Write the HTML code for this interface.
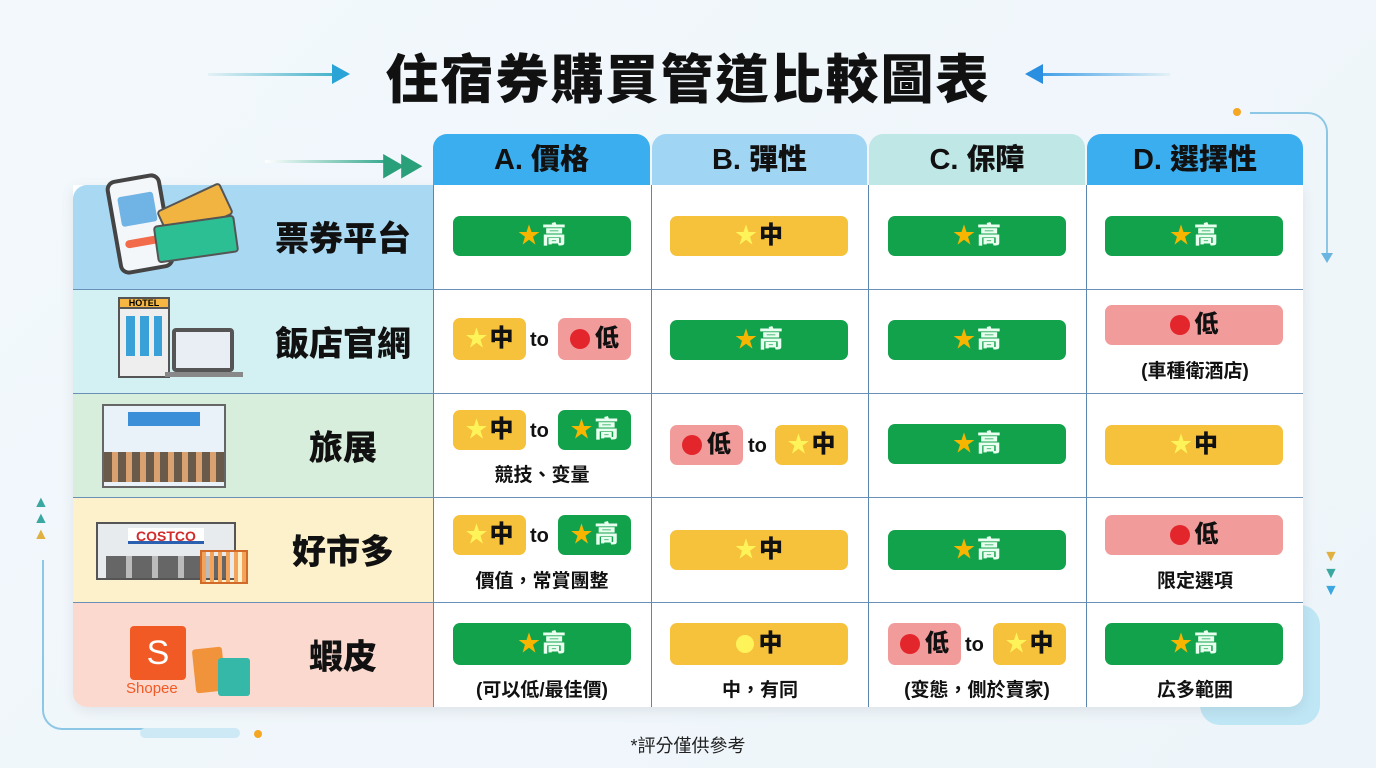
<!DOCTYPE html>
<html><head><meta charset="utf-8"><style>
*{margin:0;padding:0;box-sizing:border-box}
body{width:1376px;height:768px;overflow:hidden;background:linear-gradient(135deg,#f2f8fc,#eef5fa);font-family:"Liberation Sans","Noto Sans CJK TC",sans-serif;position:relative}
.a{position:absolute}
.title{left:0;width:1376px;top:38px;text-align:center;font-size:53px;font-weight:900;color:#111;letter-spacing:2px}
.hd{top:134px;height:51px;border-radius:14px 14px 0 0;text-align:center;font-size:29px;font-weight:900;line-height:52px;color:#111}
.lab{left:73px;width:360px;font-size:34px;font-weight:900;color:#111}
.lab span{position:absolute;left:180px;top:50%;transform:translateY(-52%);width:180px;text-align:center}
.p{position:absolute;height:36px;border-radius:7px;font-size:24px;font-weight:900;display:flex;align-items:center;justify-content:center;gap:2px;line-height:1}
.g{background:#12a24c;color:#e9fff0}.y{background:#f6c13b;color:#111}.r{background:#f29b9b;color:#111}
.st{color:#f7b500;font-size:22px}.y .st{color:#fff35a}
.dot{width:20px;height:20px;border-radius:50%;background:#e3262c;display:inline-block;margin-right:3px}
.to{position:absolute;font-size:20px;font-weight:900;color:#111}
.sub{position:absolute;font-size:19px;font-weight:700;color:#111;text-align:center;width:218px}
</style></head><body>
<div class="a title">住宿券購買管道比較圖表</div>
<div class="a" style="left:208px;top:73px;width:130px;height:3px;background:linear-gradient(90deg,#e4f2f6,#3fb0c8)"></div>
<div class="a" style="left:332px;top:64px;width:0;height:0;border-left:18px solid #2aa3d6;border-top:10px solid transparent;border-bottom:10px solid transparent"></div>
<div class="a" style="left:1040px;top:73px;width:130px;height:3px;background:linear-gradient(90deg,#3f9ee8,#e4f2f6)"></div>
<div class="a" style="left:1025px;top:64px;width:0;height:0;border-right:18px solid #2a8fe0;border-top:10px solid transparent;border-bottom:10px solid transparent"></div>
<div class="a" style="left:265px;top:160px;width:120px;height:3px;background:linear-gradient(90deg,#fff,#3aaa90)"></div>
<div class="a" style="left:380px;top:147px;font-size:26px;color:#2aa07a;font-weight:900;letter-spacing:-8px">▶▶</div>
<div class="a" style="left:1233px;top:108px;width:8px;height:8px;border-radius:50%;background:#f5a623"></div>
<div class="a" style="left:1250px;top:112px;width:78px;height:145px;border-top:2px solid #8cc8e6;border-right:2px solid #8cc8e6;border-radius:0 20px 0 0"></div>
<div class="a" style="left:1321px;top:253px;border-top:10px solid #6bb6e0;border-left:6px solid transparent;border-right:6px solid transparent"></div>
<div class="a" style="left:42px;top:560px;width:120px;height:170px;border-left:2px solid #8cc8e6;border-bottom:2px solid #8cc8e6;border-radius:0 0 0 20px"></div>
<div class="a" style="left:140px;top:728px;width:100px;height:10px;border-radius:5px;background:#cde9f5"></div>
<div class="a" style="left:254px;top:730px;width:8px;height:8px;border-radius:50%;background:#f5a623"></div>
<div class="a" style="left:33px;top:495px;font-size:16px;line-height:16px;color:#3aa7a0">▲<br>▲<br><span style="color:#e0b040">▲</span></div>
<div class="a" style="left:1323px;top:548px;font-size:16px;line-height:17px;color:#e0b040">▼<br><span style="color:#3aa7a0">▼</span><br><span style="color:#3aa7e0">▼</span></div>
<div class="a" style="left:1200px;top:605px;width:120px;height:120px;border-radius:20px;background:#bfe6f5"></div>
<div class="a" style="left:73px;top:185px;width:1230px;height:522px;background:#fff;border-radius:0 0 14px 14px;box-shadow:0 4px 14px rgba(0,0,0,.08);overflow:hidden"></div>
<div class="a hd" style="left:433px;width:217px;background:#3aaeee">A. 價格</div>
<div class="a hd" style="left:652px;width:215px;background:#a0d5f3">B. 彈性</div>
<div class="a hd" style="left:869px;width:216px;background:#bfe7e6">C. 保障</div>
<div class="a hd" style="left:1087px;width:216px;background:#3aaeee">D. 選擇性</div>
<div class="a lab" style="top:185px;height:104px;background:#a9d8f3;border-radius:14px 0 0 0"><span>票券平台</span></div>
<div class="a lab" style="top:290px;height:103px;background:#d3f0f2"><span>飯店官網</span></div>
<div class="a lab" style="top:394px;height:103px;background:#d8eedc"><span>旅展</span></div>
<div class="a lab" style="top:498px;height:104px;background:#fdf1cb"><span>好市多</span></div>
<div class="a lab" style="top:603px;height:104px;background:#fbd9cf;border-radius:0 0 0 14px"><span>蝦皮</span></div>
<div class="a" style="left:433px;top:185px;width:1px;height:522px;background:#5b86b0"></div>
<div class="a" style="left:651px;top:185px;width:1px;height:522px;background:#5b86b0"></div>
<div class="a" style="left:868px;top:185px;width:1px;height:522px;background:#5b86b0"></div>
<div class="a" style="left:1086px;top:185px;width:1px;height:522px;background:#5b86b0"></div>
<div class="a" style="left:73px;top:289px;width:1230px;height:1px;background:#6a90b8"></div>
<div class="a" style="left:73px;top:393px;width:1230px;height:1px;background:#6a90b8"></div>
<div class="a" style="left:73px;top:497px;width:1230px;height:1px;background:#6a90b8"></div>
<div class="a" style="left:73px;top:602px;width:1230px;height:1px;background:#6a90b8"></div>
<div class="a" style="left:112px;top:176px;width:56px;height:96px;border:4px solid #444;border-radius:10px;background:#f4f7fa;transform:rotate(-10deg)"><div style="margin:14px 6px;height:30px;background:#6fb4e4;border-radius:3px"></div><div style="margin:8px 6px;height:8px;background:#f26b4a;border-radius:4px"></div></div>
<div class="a" style="left:160px;top:195px;width:70px;height:35px;background:#f2b441;border:2px solid #555;border-radius:4px;transform:rotate(-25deg)"></div>
<div class="a" style="left:155px;top:220px;width:82px;height:38px;background:#2dbf94;border:2px solid #555;border-radius:4px;transform:rotate(-8deg)"></div>
<div class="a" style="left:118px;top:300px;width:52px;height:78px;background:#eee;border:2px solid #555"><div style="margin:14px 6px 0;height:40px;background:repeating-linear-gradient(90deg,#3aa0d8 0 9px,transparent 9px 14px)"></div></div>
<div class="a" style="left:118px;top:297px;width:52px;height:12px;background:#f5b642;border:2px solid #555;font-size:9px;font-weight:900;text-align:center;line-height:8px">HOTEL</div>
<div class="a" style="left:172px;top:328px;width:62px;height:44px;background:#e8eef3;border:4px solid #555;border-radius:4px"></div>
<div class="a" style="left:165px;top:372px;width:78px;height:5px;background:#888"></div>
<div class="a" style="left:102px;top:404px;width:124px;height:84px;border:2px solid #666;background:#e9f2f8"><div style="margin:6px 24px;height:14px;background:#3a8fd8"></div><div style="margin-top:26px;height:30px;background:repeating-linear-gradient(90deg,#6a5a4a 0 8px,#d9a070 8px 14px)"></div></div>
<div class="a" style="left:96px;top:522px;width:140px;height:58px;background:#e8ebee;border:2px solid #555"><div style="margin:4px 30px;height:16px;background:#fff;color:#d12b2b;font-weight:900;font-size:14px;text-align:center;line-height:16px;border-bottom:3px solid #2b5fb0">COSTCO</div><div style="margin:12px 8px;height:22px;background:repeating-linear-gradient(90deg,#666 0 20px,#bbb 20px 26px)"></div></div>
<div class="a" style="left:200px;top:550px;width:48px;height:34px;border:2px solid #d26a2a;background:repeating-linear-gradient(90deg,#f3a45a 0 4px,transparent 4px 8px)"></div>
<div class="a" style="left:130px;top:626px;width:56px;height:54px;background:#f15a24;border-radius:4px;color:#fff;font-size:34px;text-align:center;line-height:54px">S</div>
<div class="a" style="left:126px;top:680px;font-size:15px;color:#f15a24">Shopee</div>
<div class="a" style="left:194px;top:648px;width:30px;height:44px;background:#f0933a;border-radius:3px;transform:rotate(-6deg)"></div>
<div class="a" style="left:218px;top:658px;width:32px;height:38px;background:#36b8a8;border-radius:3px"></div>
<div class="p g" style="left:453px;top:216px;width:178px;height:40px"><span class="st">★</span>高</div>
<div class="p y" style="left:670px;top:216px;width:178px;height:40px"><span class="st">★</span>中</div>
<div class="p g" style="left:888px;top:216px;width:178px;height:40px"><span class="st">★</span>高</div>
<div class="p g" style="left:1105px;top:216px;width:178px;height:40px"><span class="st">★</span>高</div>
<div class="p y" style="left:453px;top:318px;width:73px;height:42px"><span class="st">★</span>中</div>
<div class="to" style="left:530px;top:329px">to</div>
<div class="p r" style="left:558px;top:318px;width:73px;height:42px"><span class="dot"></span>低</div>
<div class="p g" style="left:670px;top:320px;width:178px;height:40px"><span class="st">★</span>高</div>
<div class="p g" style="left:888px;top:320px;width:178px;height:40px"><span class="st">★</span>高</div>
<div class="p r" style="left:1105px;top:305px;width:178px;height:40px"><span class="dot"></span>低</div>
<div class="sub" style="left:1086px;top:356px">(車種衛酒店)</div>
<div class="p y" style="left:453px;top:410px;width:73px;height:40px"><span class="st">★</span>中</div>
<div class="to" style="left:530px;top:420px">to</div>
<div class="p g" style="left:558px;top:410px;width:73px;height:40px"><span class="st">★</span>高</div>
<div class="sub" style="left:433px;top:460px">競技、变量</div>
<div class="p r" style="left:670px;top:425px;width:73px;height:40px"><span class="dot"></span>低</div>
<div class="to" style="left:748px;top:435px">to</div>
<div class="p y" style="left:775px;top:425px;width:73px;height:40px"><span class="st">★</span>中</div>
<div class="p g" style="left:888px;top:424px;width:178px;height:40px"><span class="st">★</span>高</div>
<div class="p y" style="left:1105px;top:425px;width:178px;height:40px"><span class="st">★</span>中</div>
<div class="p y" style="left:453px;top:515px;width:73px;height:40px"><span class="st">★</span>中</div>
<div class="to" style="left:530px;top:525px">to</div>
<div class="p g" style="left:558px;top:515px;width:73px;height:40px"><span class="st">★</span>高</div>
<div class="sub" style="left:433px;top:566px">價值，常賞團整</div>
<div class="p y" style="left:670px;top:530px;width:178px;height:40px"><span class="st">★</span>中</div>
<div class="p g" style="left:888px;top:530px;width:178px;height:40px"><span class="st">★</span>高</div>
<div class="p r" style="left:1105px;top:515px;width:178px;height:40px"><span class="dot"></span>低</div>
<div class="sub" style="left:1086px;top:566px">限定選項</div>
<div class="p g" style="left:453px;top:623px;width:178px;height:42px"><span class="st">★</span>高</div>
<div class="sub" style="left:433px;top:675px">(可以低/最佳價)</div>
<div class="p y" style="left:670px;top:623px;width:178px;height:42px"><span class="dot" style="background:#fff35a;width:18px;height:18px"></span>中</div>
<div class="sub" style="left:651px;top:675px">中，有同</div>
<div class="p r" style="left:888px;top:623px;width:73px;height:42px"><span class="dot"></span>低</div>
<div class="to" style="left:965px;top:634px">to</div>
<div class="p y" style="left:993px;top:623px;width:73px;height:42px"><span class="st">★</span>中</div>
<div class="sub" style="left:868px;top:675px">(变態，側於賣家)</div>
<div class="p g" style="left:1105px;top:623px;width:178px;height:42px"><span class="st">★</span>高</div>
<div class="sub" style="left:1086px;top:675px">広多範囲</div>
<div class="a" style="left:0;width:1376px;top:732px;text-align:center;font-size:18px;color:#222">*評分僅供參考</div>
</body></html>
